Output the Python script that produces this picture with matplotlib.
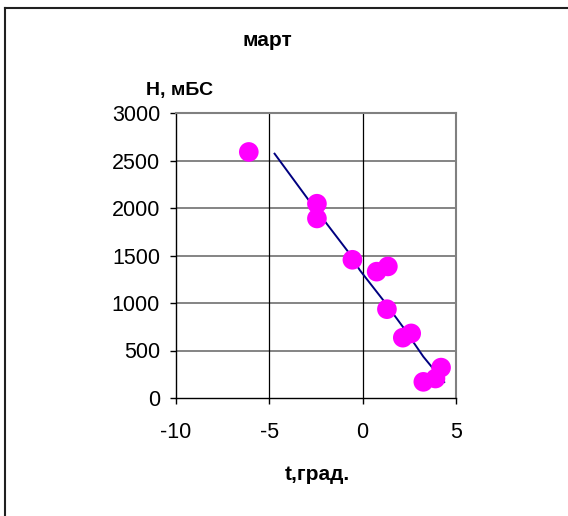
import matplotlib
matplotlib.use("Agg")
import matplotlib.pyplot as plt
from matplotlib.lines import Line2D

plt.rcParams['font.family'] = ['Liberation Sans', 'DejaVu Sans']

# Measured points: temperature (deg) vs height (m a.s.l.)
t_obs = [-6.1, -2.45, -2.45, -0.55, 0.75, 1.35, 1.3, 2.15, 2.6, 3.25, 3.9, 4.2]
h_obs = [2590, 2045, 1890, 1455, 1330, 1385, 935, 635, 680, 170, 205, 320]

# Fitted gradient line
t_fit = [-4.75, -2.9, -0.8, -0.15, 1.1, 2.15, 3.25, 4.4]
h_fit = [2580, 2085, 1545, 1345, 1030, 750, 435, 160]

x_ticks = [-10, -5, 0, 5]
y_ticks = [0, 500, 1000, 1500, 2000, 2500, 3000]

fig = plt.figure(figsize=(5.68, 5.16), dpi=100)
ax = fig.add_axes([176 / 568, 1 - 398 / 516, 280 / 568, 285 / 516])

ax.set_xlim(-10, 5)
ax.set_ylim(0, 3000)
ax.set_xticks(x_ticks)
ax.set_yticks(y_ticks)
ax.set_xticklabels([str(v) for v in x_ticks])
ax.set_yticklabels([str(v) for v in y_ticks])

for v in y_ticks[1:-1]:
    ax.axhline(v, color='#707070', lw=1.2, zorder=1)
for v in x_ticks[1:-1]:
    ax.axvline(v, color='#000000', lw=0.9, zorder=1)

ax.plot(t_fit, h_fit, color='#000080', lw=1.4, zorder=2, solid_capstyle='butt')
ax.scatter(t_obs, h_obs, s=200, color='#ff00ff', edgecolors='none', zorder=3)

for side in ('top', 'right'):
    ax.spines[side].set_color('#808080')
    ax.spines[side].set_linewidth(1.5)
for side in ('left', 'bottom'):
    ax.spines[side].set_color('#000000')
    ax.spines[side].set_linewidth(1.0)

ax.tick_params(axis='both', direction='out', length=4, width=1.0,
               labelsize=15.5, colors='#000000')
ax.tick_params(axis='y', pad=7.5)
ax.tick_params(axis='x', pad=13)

fig.text(267 / 568, 1 - 40 / 516, 'март', ha='center', va='center',
         fontsize=15, fontweight='bold')
fig.text(180 / 568, 1 - 90 / 516, 'Н, мБС', ha='center', va='center',
         fontsize=14, fontweight='bold')
fig.text(317 / 568, 1 - 475 / 516, 't,град.', ha='center', va='center',
         fontsize=15, fontweight='bold')

# Chart-area frame (top and left edges)
fig.add_artist(Line2D([5 / 568, 5 / 568], [0, 1 - 8 / 516],
                      transform=fig.transFigure, color='#202020', lw=1.5))
fig.add_artist(Line2D([5 / 568, 1], [1 - 8 / 516, 1 - 8 / 516],
                      transform=fig.transFigure, color='#202020', lw=1.5))

fig.savefig('out.png', dpi=100)
